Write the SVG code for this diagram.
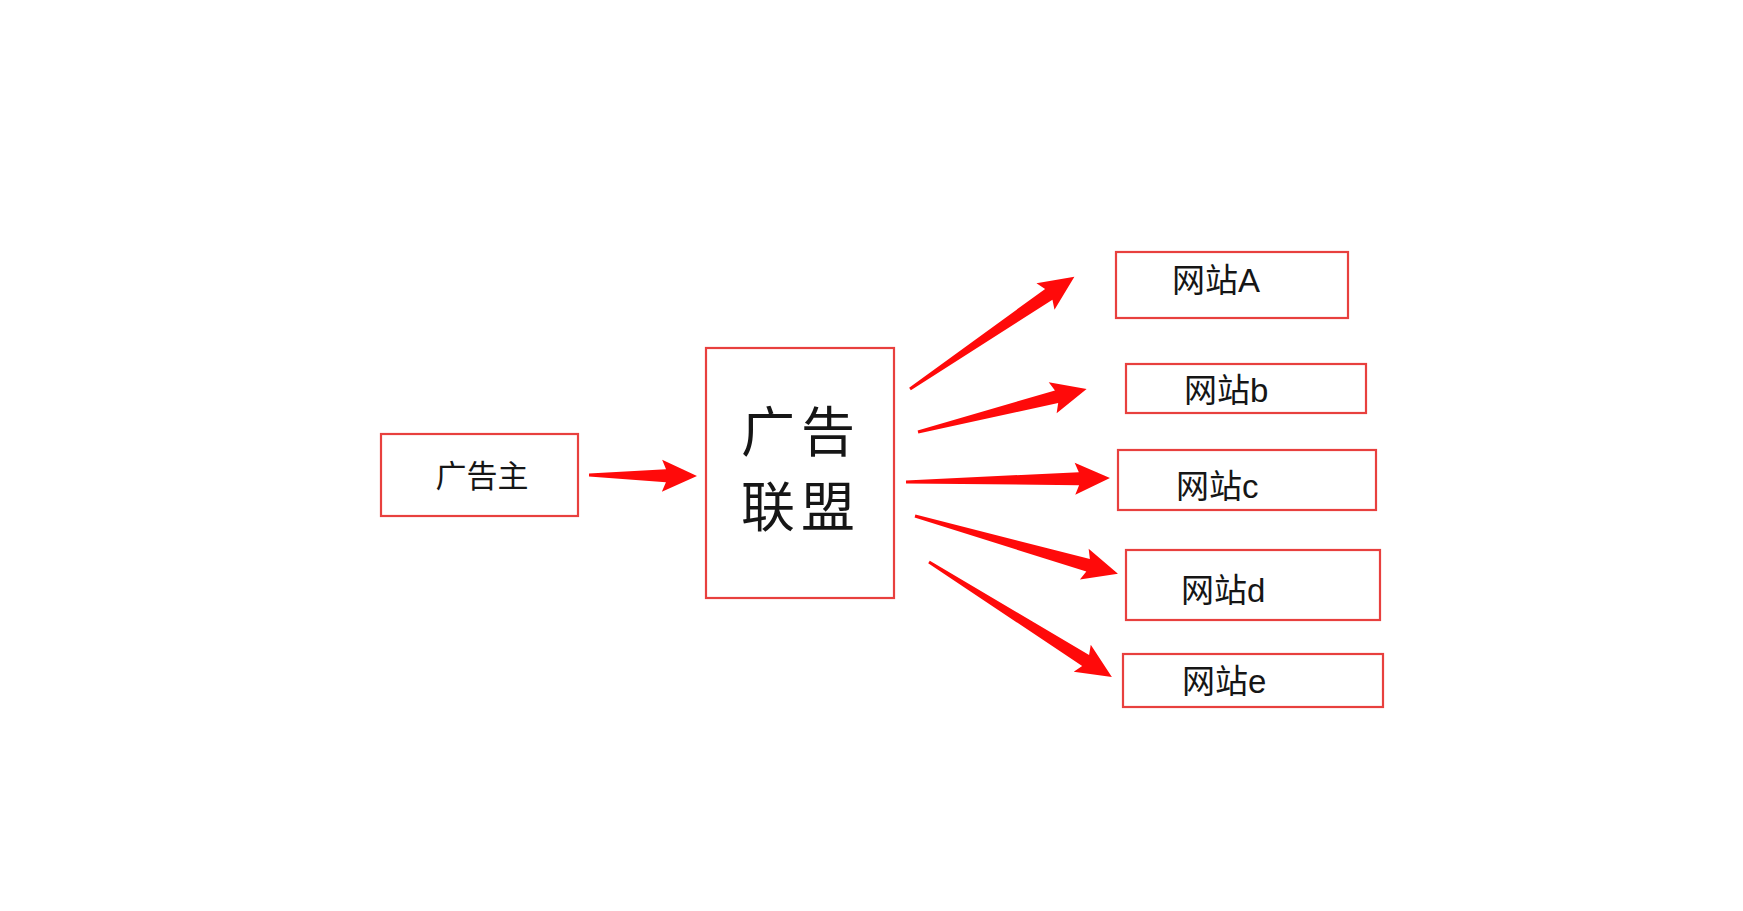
<svg xmlns="http://www.w3.org/2000/svg" width="1743" height="911" viewBox="0 0 1743 911">
<style>
.box{fill:#ffffff;stroke:#e8403e;stroke-width:2.2}
.t{font-family:"Liberation Sans","Noto Sans CJK SC",sans-serif;fill:#161616}
.cj{font-family:"Noto Sans CJK SC",sans-serif;fill:#161616}
.arr{fill:#ff0a0a}
</style>
<rect x="0" y="0" width="1743" height="911" fill="#ffffff"/>
<g id="connectors">
<g transform="translate(589,475) rotate(0.5)"><path class="arr" d="M0,-1.5 L77,-6.5 L73,-16 L108,0 L73,16 L77,6.5 L0,1.5 Z"/></g>
<g transform="translate(910,389) rotate(-34.3)"><path class="arr" d="M0,-1.5 L168,-6.5 L164,-16 L199,0 L164,16 L168,6.5 L0,1.5 Z"/></g>
<g transform="translate(918,432) rotate(-14.3)"><path class="arr" d="M0,-1.5 L143,-6.5 L139,-16 L174,0 L139,16 L143,6.5 L0,1.5 Z"/></g>
<g transform="translate(906,482) rotate(-1.1)"><path class="arr" d="M0,-1.5 L173,-6.5 L169,-16 L204,0 L169,16 L173,6.5 L0,1.5 Z"/></g>
<g transform="translate(915,516) rotate(15.9)"><path class="arr" d="M0,-1.5 L180,-6.5 L176,-16 L211,0 L176,16 L180,6.5 L0,1.5 Z"/></g>
<g transform="translate(929,562) rotate(32.15)"><path class="arr" d="M0,-1.5 L185,-6.5 L181,-16 L216,0 L181,16 L185,6.5 L0,1.5 Z"/></g>
</g>
<g id="advertiser">
<rect class="box" x="381" y="434" width="197" height="82"/>
<text class="cj" x="482" y="487" font-size="31" text-anchor="middle">广告主</text>
</g>
<g id="ad-network">
<rect class="box" x="706" y="348" width="188" height="250"/>
<text class="cj" x="741" y="452" font-size="54" letter-spacing="6">广告</text>
<text class="cj" x="741" y="527" font-size="54" letter-spacing="6">联盟</text>
</g>
<g id="site-a">
<rect class="box" x="1116" y="252" width="232" height="66"/>
<text class="t" x="1172" y="292" font-size="33">网站A</text>
</g>
<g id="site-b">
<rect class="box" x="1126" y="364" width="240" height="49"/>
<text class="t" x="1184" y="402" font-size="33">网站b</text>
</g>
<g id="site-c">
<rect class="box" x="1118" y="450" width="258" height="60"/>
<text class="t" x="1176" y="498" font-size="33">网站c</text>
</g>
<g id="site-d">
<rect class="box" x="1126" y="550" width="254" height="70"/>
<text class="t" x="1181" y="602" font-size="33">网站d</text>
</g>
<g id="site-e">
<rect class="box" x="1123" y="654" width="260" height="53"/>
<text class="t" x="1182" y="693" font-size="33">网站e</text>
</g>
</svg>
